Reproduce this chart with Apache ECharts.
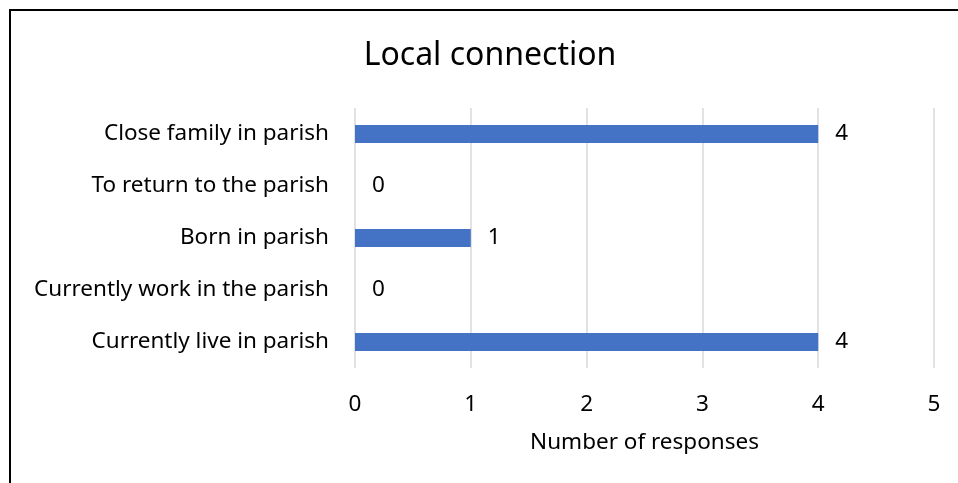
<!DOCTYPE html>
<html>
<head>
<meta charset="utf-8">
<script src="https://cdn.jsdelivr.net/npm/echarts@6/dist/echarts.min.js"></script>
<style>
html,body{margin:0;padding:0;background:#fff;}
#chart{width:958px;height:483px;}
</style>
</head>
<body>
<div id="chart"></div>
<script>
var categories = ["Close family in parish", "To return to the parish", "Born in parish", "Currently work in the parish", "Currently live in parish"];
var values = [4, 0, 1, 0, 4];
var titleText = "Local connection";
var axisName = "Number of responses";

var FONT = "Noto Sans";
var FS = 22.5;
var chart = echarts.init(document.getElementById('chart'));
chart.setOption({
  animation: false,
  backgroundColor: '#fff',
  textStyle: {fontFamily: FONT},
  graphic: [
    {type: 'rect', shape: {x: 10, y: 10, width: 2000, height: 2000}, style: {fill: 'none', stroke: '#000', lineWidth: 2}},
    {type: 'text', x: 490, y: 56, style: {text: titleText, fontFamily: FONT, fontSize: 32, fill: '#000', textAlign: 'center', textVerticalAlign: 'middle'}}
  ],
  grid: {left: 355, right: 24, top: 108, bottom: 115, containLabel: false},
  xAxis: {
    type: 'value', min: 0, max: 5, interval: 1,
    axisLine: {show: false}, axisTick: {show: false},
    splitLine: {show: true, lineStyle: {color: '#d9d9d9', width: 1.5}},
    axisLabel: {fontSize: FS, color: '#000', margin: 25, fontFamily: FONT},
    name: axisName, nameLocation: 'middle', nameGap: 63,
    nameTextStyle: {fontSize: FS, color: '#000', fontFamily: FONT}
  },
  yAxis: {
    type: 'category', data: categories, inverse: true,
    axisLine: {show: false}, axisTick: {show: false},
    axisLabel: {fontSize: FS, color: '#000', margin: 26, fontFamily: FONT, padding: [4, 0, 0, 0]}
  },
  series: [{
    type: 'bar', data: values, barWidth: 18,
    itemStyle: {color: '#4472C4'},
    label: {show: true, position: 'right', distance: 17, fontSize: FS, color: '#000', fontFamily: FONT, padding: [4, 0, 0, 0]}
  }]
});
</script>
</body>
</html>
